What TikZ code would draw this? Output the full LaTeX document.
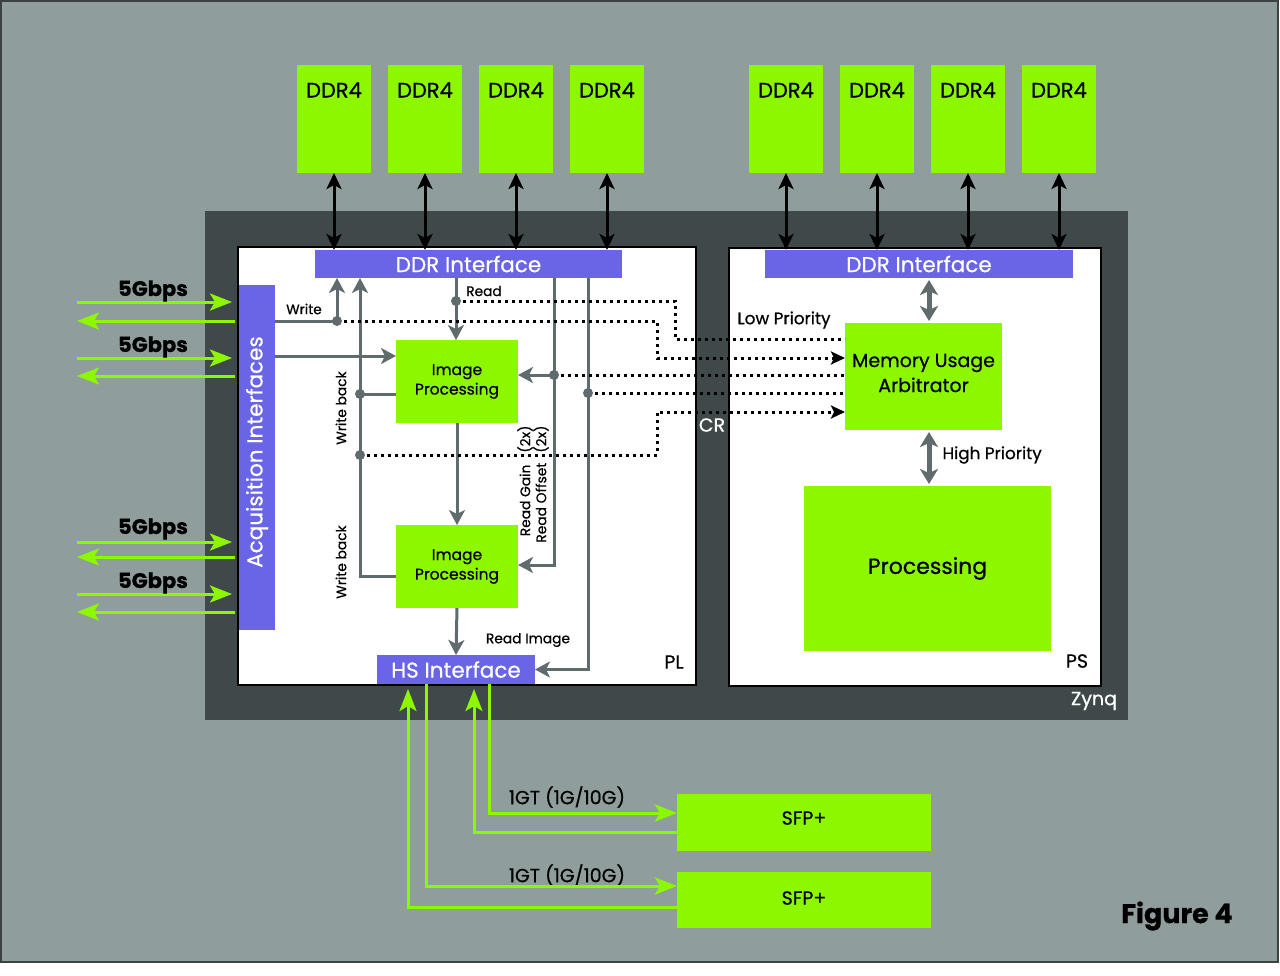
\documentclass[tikz,border=0pt]{standalone}
\usepackage{fontspec}
\setmainfont{Poppins}[FakeBold=0.6]
\usetikzlibrary{arrows.meta}
\definecolor{bgc}{RGB}{143,158,157}
\definecolor{framec}{RGB}{60,66,66}
\definecolor{zdark}{RGB}{64,73,74}
\definecolor{blu}{RGB}{106,100,230}
\definecolor{grn}{RGB}{141,247,0}
\definecolor{lgray}{RGB}{95,107,108}
\tikzset{
  box/.style={rectangle, inner sep=0pt, outer sep=0pt},
  gbox/.style={box, fill=grn},
  bbox/.style={box, fill=blu, text=white},
  fxl/.style={font=\fontsize{22}{26}\selectfont},
  fl/.style={font=\fontsize{21.5}{24}\selectfont},
  fddr/.style={font=\fontsize{21}{24}\selectfont},
  fmu/.style={font=\fontsize{19}{25}\selectfont},
  fm/.style={font=\fontsize{19}{22}\selectfont},
  fmd/.style={font=\fontsize{16.8}{20}\selectfont},
  fip/.style={font=\fontsize{15.5}{19.5}\selectfont},
  fsm/.style={font=\fontsize{13.8}{16}\selectfont},
  gl/.style={draw=lgray, line width=3pt},
  gtip/.style={-{Stealth[length=15pt,width=16pt,inset=4pt]}},
  bk/.style={draw=black, line width=3pt, {Stealth[length=16pt,width=15pt,inset=4pt]}-{Stealth[length=16pt,width=15pt,inset=4pt]}},
  gdbl/.style={draw=lgray, line width=5pt, {Stealth[length=15pt,width=18pt,inset=4pt]}-{Stealth[length=15pt,width=18pt,inset=4pt]}, shorten <=2pt, shorten >=2pt},
  dl/.style={draw=black, line width=3pt, dash pattern=on 3pt off 4pt},
  dtip/.style={-{Stealth[length=14pt,width=13pt,inset=3pt]}},
  gr/.style={draw=grn, line width=3pt},
  grtip/.style={-{Stealth[length=22pt,width=17pt,inset=5pt]}},
}
\begin{document}
\begin{tikzpicture}[x=1pt,y=-1pt]
\useasboundingbox (0,0) rectangle (1280,975);
\fill[white] (0,0) rectangle (1280,975);
\draw[fill=bgc, draw=framec, line width=2pt] (1,1) rectangle (1278,962);

% Zynq, PL, PS
\node[box, fill=zdark, minimum width=923pt, minimum height=509pt] (zynq) at (666.5,465.5) {};
\node[box, fill=white, draw=black, line width=2.5pt, minimum width=458pt, minimum height=438pt] (pl) at (467,466) {};
\node[box, fill=white, draw=black, line width=2.5pt, minimum width=372pt, minimum height=438pt] (ps) at (915,467) {};
\node[fm, text=white] (zl) at (1094,701) {Zynq};
\node[fm] (pll) at (674,662) {PL};
\node[fm] (psl) at (1077,661) {PS};
\node[fm, text=white] (cr) at (712,425) {CR};

% DDR interfaces
\node[bbox, fl, minimum width=307pt, minimum height=28pt] (pddr) at (468.5,264) {DDR Interface};
\node[bbox, fl, minimum width=308pt, minimum height=28pt] (sddr) at (919,264) {DDR Interface};

% DDR4 modules
\foreach \i/\x in {1/334,2/425,3/516,4/607} {
  \node[gbox, minimum width=74pt, minimum height=108pt] (d\i) at (\x,119) {};
  \node[fddr] (dt\i) at (\x,90) {DDR4};
  \draw[bk] (d\i.south) -- (d\i.south |- pddr.north);
}
\foreach \i/\x in {5/786,6/877,7/968,8/1059} {
  \node[gbox, minimum width=74pt, minimum height=108pt] (d\i) at (\x,119) {};
  \node[fddr] (dt\i) at (\x,90) {DDR4};
  \draw[bk] (d\i.south) -- (d\i.south |- sddr.north);
}

% Acquisition
\node[bbox, minimum width=36pt, minimum height=345pt] (acq) at (257,457.5) {};
\node[fl, rotate=90, text=white] (acqt) at (257,452) {Acquisition Interfaces};

% PL blocks
\node[gbox, fip, align=center, minimum width=122pt, minimum height=83pt] (ip1) at (457,381.5) {Image\\Processing};
\node[gbox, fip, align=center, minimum width=122pt, minimum height=83pt] (ip2) at (457,566.5) {Image\\Processing};
\node[bbox, fl, minimum width=158pt, minimum height=29pt] (hs) at (456,669.5) {HS Interface};

% PS blocks
\node[gbox, minimum width=157pt, minimum height=107pt] (mua) at (923.5,376.5) {};
\node[fmu, align=center] (muat) at (923.5,373) {Memory Usage\\Arbitrator};
\node[gbox, fxl, minimum width=247pt, minimum height=165pt] (proc) at (927.5,568.5) {Processing};
\coordinate (ax) at (929,0);
\draw[gdbl] (sddr.south -| ax) -- (mua.north -| ax);
\draw[gdbl] (mua.south -| ax) -- (proc.north -| ax);
\node[fmd] (lp) at (784,320) {Low Priority};
\node[fmd, anchor=west] (hp) at (939,455) {High Priority};

% SFP
\node[gbox, fm, minimum width=254pt, minimum height=57pt] (s1) at (804,822.5) {};
\node[fm] (s1t) at (804,818) {SFP+};
\node[gbox, fm, minimum width=254pt, minimum height=56pt] (s2) at (804,900) {};
\node[fm] (s2t) at (804,898) {SFP+};
\node[fm] (t1) at (567,797) {1GT (1G/10G)};
\node[fm] (t2) at (567,875) {1GT (1G/10G)};

% junction coordinates
\coordinate (jw) at (337,321);
\coordinate (jr) at (456,301);
\coordinate (jg) at (554,375);
\coordinate (ji) at (588,393);
\coordinate (jb1) at (360,394);
\coordinate (jb2) at (360,455);
\coordinate (ain) at (0,356);
\coordinate (yb) at (0,576);
\coordinate (yg) at (0,565);
\coordinate (c1) at (675,339);
\coordinate (c2) at (657,358);
\coordinate (c3) at (657,412);

% PL solid connections
\draw[gl] (acq.east |- jw) -- (jw);
\draw[gl,gtip] (jw) -- (jw |- pddr.south);
\draw[gl,gtip] (acq.east |- ain) -- (ip1.west |- ain);
\draw[gl,gtip] (ip2.west |- yb) -- (jb1 |- yb) -- (jb1 |- pddr.south);
\draw[gl] (ip1.west |- jb1) -- (jb1);
\draw[gl,gtip] (jr |- pddr.south) -- (jr |- ip1.north);
\draw[gl,gtip] (jg |- pddr.south) -- (jg |- yg) -- (ip2.east |- yg);
\draw[gl,gtip] (jg) -- (ip1.east |- jg);
\draw[gl,gtip] (ji |- pddr.south) -- (ji |- hs.east) -- (hs.east);
\draw[gl,gtip] (ip1.south) -- (ip2.north);
\draw[gl,gtip] (ip2.south) -- (hs.north);

% dotted connections
\draw[dl] (jr) -| (c1) -- (mua.west |- c1);
\draw[dl,dtip] (jw) -| (c2) -- (mua.west |- c2);
\draw[dl] (jg) -- (mua.west |- jg);
\draw[dl] (ji) -- (mua.west |- ji);
\draw[dl,dtip] (jb2) -| (c3) -- (mua.west |- c3);

% dots
\foreach \p in {jw,jr,jg,ji,jb1,jb2} \fill[lgray] (\p) circle (5pt);

% PL labels
\node[fsm] (wl) at (304,309) {Write};
\node[fsm] (rl) at (484,291) {Read};
\node[fsm] (ril) at (528,640) {Read Image};
\node[fsm, rotate=90] (wb1) at (341,408) {Write back};
\node[fsm, rotate=90] (wb2) at (341,562) {Write back};
\node[fsm, rotate=90, anchor=east] (rgl) at (525,422) {Read Gain\hspace{12pt}(2x)};
\node[fsm, rotate=90, anchor=east] (rol) at (541,422) {Read Offset\hspace{10pt}(2x)};

% left 5Gbps links
\foreach \a/\b/\t [count=\k] in {302/321/291, 358/376/347, 542/557/529, 594/612/583} {
  \coordinate (la\k) at (77,\a);
  \coordinate (lb\k) at (77,\b);
  \draw[gr,grtip] (la\k) -- ([xshift=-7pt]acq.west |- la\k);
  \draw[gr,grtip] ([xshift=-4pt]acq.west |- lb\k) -- (lb\k);
  \node[font=\fontsize{21}{24}\selectfont\bfseries] (lt\k) at (153,\t) {5Gbps};
}

% SFP links
\coordinate (g1) at (408,907);
\coordinate (g2) at (426,886);
\coordinate (g3) at (474,832);
\coordinate (g4) at (489,813);
\draw[gr,grtip,shorten >=5pt] (s2.west |- g1) -- (g1) -- (g1 |- hs.south);
\draw[gr,grtip] (g2 |- hs.south) -- (g2) -- (s2.west |- g2);
\draw[gr,grtip,shorten >=5pt] (s1.west |- g3) -- (g3) -- (g3 |- hs.south);
\draw[gr,grtip] (g4 |- hs.south) -- (g4) -- (s1.west |- g4);

\node[font=\fontsize{27}{30}\selectfont\bfseries] (fig) at (1177,916) {Figure 4};
\end{tikzpicture}
\end{document}
